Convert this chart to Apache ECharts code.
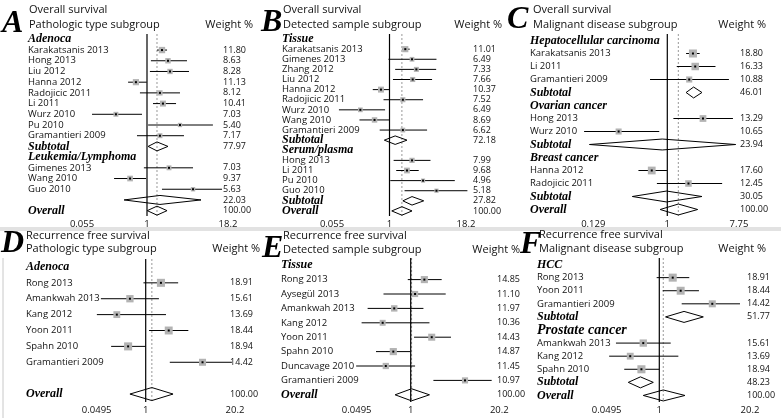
<!DOCTYPE html>
<html>
<head>
<meta charset="utf-8">
<script src="https://cdn.jsdelivr.net/npm/echarts@6/dist/echarts.min.js"></script>
<style>
html, body { margin: 0; background: #fff; }
#main { width: 781px; height: 418px; }
</style>
</head>
<body>
<div id="main"></div>
<script>
// A: overall survival, pathologic type
var aRows = ['Adenoca', 'Karakatsanis 2013', 'Hong 2013', 'Liu 2012', 'Hanna 2012', 'Radojicic 2011', 'Li 2011', 'Wurz 2010', 'Pu 2010', 'Gramantieri 2009', 'Subtotal', 'Leukemia/Lymphoma', 'Gimenes 2013', 'Wang 2010', 'Guo 2010', '', 'Overall'];
var aEst = [null, 1.71, 2.12, 2.28, 0.61, 1.59, 1.77, 0.25, 3.26, 1.59, 1.43, null, 2.20, 0.47, 5.20, 1.59, 1.43];
var aLo  = [null, 1.43, 1.15, 1.11, 0.43, 0.73, 1.24, 0.086, 1.04, 0.64, 1.04, null, 0.87, 0.23, 1.71, 0.36, 1.01];
var aHi  = [null, 2.05, 4.19, 4.50, 0.99, 3.26, 2.83, 0.80, 10.6, 3.76, 2.12, null, 5.20, 0.96, 14.7, 6.92, 2.05];
var aWt  = [null, 11.80, 8.63, 8.28, 11.13, 8.12, 10.41, 7.03, 5.40, 7.17, 77.97, null, 7.03, 9.37, 5.63, 22.03, 100.00];
var aTicks = ['0.055', '1', '18.2'];

// B: overall survival, detected sample
var bRows = ['Tissue', 'Karakatsanis 2013', 'Gimenes 2013', 'Zhang 2012', 'Liu 2012', 'Hanna 2012', 'Radojicic 2011', 'Wurz 2010', 'Wang 2010', 'Gramantieri 2009', 'Subtotal', 'Serum/plasma', 'Hong 2013', 'Li 2011', 'Pu 2010', 'Guo 2010', 'Subtotal', 'Overall'];
var bEst = [null, 1.82, 2.35, 2.77, 2.41, 0.65, 1.66, 0.23, 0.47, 1.66, 1.24, null, 2.35, 1.94, 3.57, 5.94, 2.35, 1.60];
var bLo  = [null, 1.60, 0.95, 1.24, 1.14, 0.43, 0.74, 0.078, 0.22, 0.61, 0.77, null, 1.17, 1.29, 1.03, 1.77, 1.66, 1.09];
var bHi  = [null, 2.15, 5.94, 5.87, 5.03, 0.99, 3.57, 0.80, 0.99, 4.16, 1.94, null, 4.73, 3.03, 11.9, 19.2, 3.66, 2.35];
var bWt  = [null, 11.01, 6.49, 7.33, 7.66, 10.37, 7.52, 6.49, 8.69, 6.62, 72.18, null, 7.99, 9.68, 4.96, 5.18, 27.82, 100.00];
var bTicks = ['0.055', '1', '18.2'];

// C: overall survival, malignant disease
var cRows = ['Hepatocellular carcinoma', 'Karakatsanis 2013', 'Li 2011', 'Gramantieri 2009', 'Subtotal', 'Ovarian cancer', 'Hong 2013', 'Wurz 2010', 'Subtotal', 'Breast cancer', 'Hanna 2012', 'Radojicic 2011', 'Subtotal', 'Overall'];
var cEst = [null, 2.08, 2.22, 1.87, 2.12, null, 2.77, 0.26, 0.87, null, 0.65, 1.83, 0.98, 1.37];
var cLo  = [null, 1.71, 1.31, 0.62, 1.71, null, 1.19, 0.10, 0.116, null, 0.45, 0.75, 0.38, 0.82];
var cHi  = [null, 2.52, 3.96, 5.81, 2.69, null, 6.52, 0.80, 7.05, null, 0.99, 4.79, 2.69, 2.38];
var cWt  = [null, 18.80, 16.33, 10.88, 46.01, null, 13.29, 10.65, 23.94, null, 17.60, 12.45, 30.05, 100.00];
var cTicks = ['0.129', '1', '7.75'];

// D: recurrence free survival, pathologic type
var dRows = ['Adenoca', 'Rong 2013', 'Amankwah 2013', 'Kang 2012', 'Yoon 2011', 'Spahn 2010', 'Gramantieri 2009', '', 'Overall'];
var dEst = [null, 1.67, 0.38, 0.17, 2.17, 0.34, 6.77, null, 1.23];
var dLo  = [null, 0.87, 0.064, 0.05, 1.12, 0.12, 2.25, null, 0.38];
var dHi  = [null, 2.98, 1.56, 1.98, 4.20, 0.99, 18.2, null, 2.51];
var dWt  = [null, 18.91, 15.61, 13.69, 18.44, 18.94, 14.42, null, 100.00];
var dTicks = ['0.0495', '1', '20.2'];

// E: recurrence free survival, detected sample
var eRows = ['Tissue', 'Rong 2013', 'Aysegül 2013', 'Amankwah 2013', 'Kang 2012', 'Yoon 2011', 'Spahn 2010', 'Duncavage 2010', 'Gramantieri 2009', 'Overall'];
var eEst = [null, 1.59, 1.16, 0.40, 0.21, 2.04, 0.38, 0.25, 6.31, 1.03];
var eLo  = [null, 0.85, 0.22, 0.091, 0.065, 1.12, 0.145, 0.048, 2.16, 0.42];
var eHi  = [null, 2.86, 3.28, 1.54, 1.89, 3.92, 0.99, 1.16, 15.6, 1.89];
var eWt  = [null, 14.85, 11.10, 11.97, 10.36, 14.43, 14.87, 11.45, 10.97, 100.00];
var eTicks = ['0.0495', '1', '20.2'];

// F: recurrence free survival, malignant disease
var fRows = ['HCC', 'Rong 2013', 'Yoon 2011', 'Gramantieri 2009', 'Subtotal', 'Prostate cancer', 'Amankwah 2013', 'Kang 2012', 'Spahn 2010', 'Subtotal', 'Overall'];
var fEst = [null, 1.56, 2.03, 5.79, 2.27, null, 0.40, 0.19, 0.36, 0.34, 1.14];
var fLo  = [null, 0.86, 1.12, 2.10, 1.23, null, 0.084, 0.057, 0.135, 0.17, 0.40];
var fHi  = [null, 2.70, 3.72, 14.5, 4.30, null, 1.46, 1.88, 0.99, 0.71, 2.34];
var fWt  = [null, 18.91, 18.44, 14.42, 51.77, null, 15.61, 13.69, 18.94, 48.23, 100.00];
var fTicks = ['0.0495', '1', '20.2'];

var SANS = '"Open Sans", "Noto Sans", sans-serif';
var SERIF = '"Liberation Serif", "DejaVu Serif", serif';
var bigHeads = ['Prostate cancer'];

// panel layout (x0/x1 = axis ends, zero = null line, pL/pR = px from 1 to outer ticks)
var panels = [
	{rows: aRows, est: aEst, lo: aLo, hi: aHi, wt: aWt, ticks: aTicks,
	 x0: 28, x1: 258, y0: 34, y1: 216, zero: 147, pL: 65, pR: 81, wx: 223,
	 letter: 'A', lx: 2, ly: 24, t1: 'Overall survival', t2: 'Pathologic type subgroup', tx: 29, ty1: 10, ty2: 25, wr: 253},
	{rows: bRows, est: bEst, lo: bLo, hi: bHi, wt: bWt, ticks: bTicks,
	 x0: 282, x1: 505, y0: 34, y1: 216, zero: 389.5, pL: 57.5, pR: 76.5, wx: 473,
	 letter: 'B', lx: 261, ly: 23, t1: 'Overall survival', t2: 'Detected sample subgroup', tx: 283, ty1: 10, ty2: 25, wr: 502},
	{rows: cRows, est: cEst, lo: cLo, hi: cHi, wt: cWt, ticks: cTicks,
	 x0: 530, x1: 768, y0: 34, y1: 216, zero: 667.3, pL: 74, pR: 71.7, wx: 740,
	 letter: 'C', lx: 507, ly: 20, t1: 'Overall survival', t2: 'Malignant disease subgroup', tx: 533, ty1: 10, ty2: 25, wr: 766},
	{rows: dRows, est: dEst, lo: dLo, hi: dHi, wt: dWt, ticks: dTicks,
	 x0: 26, x1: 260, y0: 259, y1: 402, zero: 145.7, pL: 49, pR: 89.3, wx: 230,
	 letter: 'D', lx: 1, ly: 244, t1: 'Recurrence free survival', t2: 'Pathologic type subgroup', tx: 26, ty1: 236, ty2: 249, wr: 260},
	{rows: eRows, est: eEst, lo: eLo, hi: eHi, wt: eWt, ticks: eTicks,
	 x0: 281, x1: 520, y0: 258, y1: 402, zero: 410.7, pL: 54, pR: 88.6, wx: 497,
	 letter: 'E', lx: 262, ly: 249, t1: 'Recurrence free survival', t2: 'Detected sample subgroup', tx: 283, ty1: 236, ty2: 250, wr: 520},
	{rows: fRows, est: fEst, lo: fLo, hi: fHi, wt: fWt, ticks: fTicks,
	 x0: 537, x1: 773, y0: 258, y1: 402, zero: 659.3, pL: 52.6, pR: 90.7, wx: 747,
	 letter: 'F', lx: 520, ly: 245, t1: 'Recurrence free survival', t2: 'Malignant disease subgroup', tx: 539, ty1: 235, ty2: 249, wr: 766}
];

// log scale with the outer ticks placed where the figure puts them
function toU(v, p) {
	var lo = parseFloat(p.ticks[0]), hi = parseFloat(p.ticks[2]);
	if (v >= 1) return Math.log(v) / Math.log(hi) * p.pR;
	return Math.log(v) / -Math.log(lo) * p.pL;
}

function isPooled(name) {
	return name === 'Subtotal' || name === 'Overall' || name === '';
}

function renderItem(params, api) {
	var k = api.value(5);
	var cs = params.coordSys;
	var c = api.coord([api.value(0), api.value(1)]);
	if (k >= 2) {
		return {
			type: 'line',
			shape: {x1: c[0], y1: cs.y, x2: c[0], y2: cs.y + cs.height},
			style: k === 2 ? {stroke: '#000', lineWidth: 1.2} : {stroke: '#999', lineWidth: 1, lineDash: [2, 2]}
		};
	}
	var a = api.coord([api.value(2), api.value(1)]);
	var b = api.coord([api.value(3), api.value(1)]);
	var band = api.size([0, 1])[1];
	if (k === 1) {
		var h = Math.min(band * 0.42, 6.5);
		return {
			type: 'polygon',
			shape: {points: [[a[0], c[1]], [c[0], c[1] - h], [b[0], c[1]], [c[0], c[1] + h]]},
			style: {fill: 'none', stroke: '#000', lineWidth: 1}
		};
	}
	var s = 1.85 * Math.sqrt(api.value(4));
	return {
		type: 'group',
		children: [
			{type: 'line', shape: {x1: a[0], y1: c[1], x2: b[0], y2: c[1]}, style: {stroke: '#000', lineWidth: 1}},
			{type: 'rect', shape: {x: c[0] - s / 2, y: c[1] - s / 2, width: s, height: s}, style: {fill: '#b3b3b3'}},
			{type: 'rect', shape: {x: c[0] - 1, y: c[1] - 1, width: 2, height: 2}, style: {fill: '#000'}}
		]
	};
}

var grids = [], xAxes = [], yAxes = [], series = [], graphics = [];

panels.forEach(function(p, i) {
	grids.push({left: p.x0, top: p.y0, width: p.x1 - p.x0, height: p.y1 - p.y0});
	var ticks = p.ticks;
	var tv = [-p.pL, 0, p.pR];
	xAxes.push({
		gridIndex: i, type: 'value', position: 'bottom',
		min: p.x0 - p.zero, max: p.x1 - p.zero,
		axisLine: {onZero: false, lineStyle: {color: '#000', width: 1}},
		splitLine: {show: false},
		axisTick: {customValues: tv, length: 3, lineStyle: {color: '#000'}},
		axisLabel: {
			customValues: tv, margin: 3, color: '#111', fontSize: 9.5, fontFamily: SANS,
			formatter: function(v) { return v < 0 ? ticks[0] : (v > 0 ? ticks[2] : ticks[1]); }
		}
	});
	xAxes.push({
		gridIndex: i, type: 'value', position: 'top',
		min: p.x0 - p.zero, max: p.x1 - p.zero,
		axisLine: {onZero: false, lineStyle: {color: '#000', width: 1}},
		splitLine: {show: false}, axisTick: {show: false}, axisLabel: {show: false}
	});
	var rows = p.rows, est = p.est;
	yAxes.push({
		gridIndex: i, type: 'category', inverse: true, position: 'left', data: rows,
		axisLine: {show: false, onZero: false}, axisTick: {show: false},
		axisLabel: {
			inside: true, margin: 0, align: 'left', interval: 0, hideOverlap: false,
			color: '#111', fontSize: 9.5, fontFamily: SANS,
			formatter: function(v, idx) {
				if (v === 'Subtotal' || v === 'Overall') return '{h|' + v + '}';
				if (est[idx] == null && v !== '') return bigHeads.indexOf(v) >= 0 ? '{H|' + v + '}' : '{h|' + v + '}';
				return v;
			},
			rich: {
				h: {fontFamily: SERIF, fontWeight: 'bold', fontStyle: 'italic', fontSize: 12, color: '#000'},
				H: {fontFamily: SERIF, fontWeight: 'bold', fontStyle: 'italic', fontSize: 14, color: '#000'}
			}
		}
	});
	yAxes.push({
		gridIndex: i, type: 'category', inverse: true, position: 'right',
		data: p.wt.map(function(w) { return w == null ? '' : w.toFixed(2); }),
		axisLine: {show: false, onZero: false}, axisTick: {show: false},
		axisLabel: {inside: true, margin: p.x1 - p.wx, align: 'left', interval: 0, hideOverlap: false,
			color: '#111', fontSize: 9, fontFamily: SANS}
	});

	var data = [];
	var last = rows.length - 1;
	data.push([toU(est[last], p), 0, 0, 0, 0, 3]);
	data.push([0, 0, 0, 0, 0, 2]);
	rows.forEach(function(r, j) {
		if (est[j] == null) return;
		data.push([toU(est[j], p), j, toU(p.lo[j], p), toU(p.hi[j], p), p.wt[j], isPooled(r) ? 1 : 0]);
	});
	series.push({
		type: 'custom', xAxisIndex: 2 * i, yAxisIndex: 2 * i,
		renderItem: renderItem, data: data, silent: true, clip: false,
		encode: {x: [0, 2, 3], y: 1}
	});

	graphics.push({type: 'text', x: p.lx, y: p.ly, style: {text: p.letter, font: 'italic bold 32px ' + SERIF, fill: '#000', verticalAlign: 'middle'}});
	graphics.push({type: 'text', x: p.tx, y: p.ty1, style: {text: p.t1, font: '11px ' + SANS, fill: '#111', verticalAlign: 'middle'}});
	graphics.push({type: 'text', x: p.tx, y: p.ty2, style: {text: p.t2, font: '11px ' + SANS, fill: '#111', verticalAlign: 'middle'}});
	graphics.push({type: 'text', x: p.wr, y: p.ty2, style: {text: 'Weight %', font: '11px ' + SANS, fill: '#111', align: 'right', verticalAlign: 'middle'}});
});

graphics.unshift({type: 'rect', shape: {x: 0, y: 227, width: 781, height: 4}, style: {fill: '#e2e2e2'}});
graphics.unshift({type: 'line', shape: {x1: 3, y1: 258, x2: 3, y2: 418}, style: {stroke: '#c8c8c8', lineWidth: 1}});

var myChart = echarts.init(document.getElementById('main'));
myChart.setOption({
	animation: false,
	backgroundColor: '#fff',
	grid: grids,
	xAxis: xAxes,
	yAxis: yAxes,
	series: series,
	graphic: graphics
});
</script>
</body>
</html>
